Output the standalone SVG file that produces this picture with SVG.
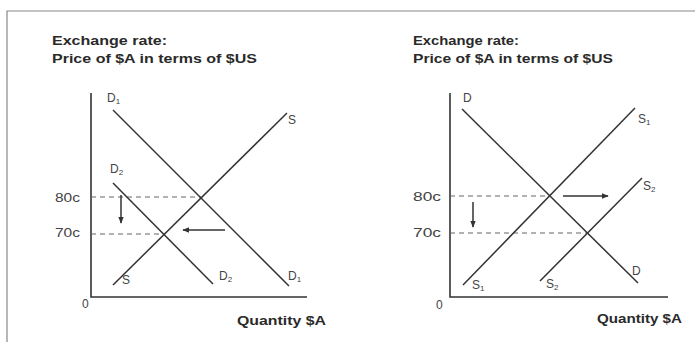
<svg xmlns="http://www.w3.org/2000/svg" width="695" height="342" viewBox="0 0 695 342">
<style>
.title{font-family:"Liberation Sans",Arial,sans-serif;font-weight:bold;font-size:13px;fill:#2a2a2a}
.lbl{font-family:"Liberation Sans",Arial,sans-serif;font-size:12px;fill:#444}
.sub{font-size:8px}
.curve{stroke:#333;stroke-width:1.5;fill:none}
.axis{stroke:#333;stroke-width:1.6;fill:none}
.dash{stroke:#666;stroke-width:1.2;stroke-dasharray:5 4;fill:none}
.arr{stroke:#333;stroke-width:1.5;fill:none;marker-end:url(#ah)}
.frame{stroke:#888;stroke-width:1.2;fill:none}
</style>
<defs>
<marker id="ah" viewBox="0 0 10 10" refX="9" refY="5" markerWidth="4.5" markerHeight="4.5" orient="auto" markerUnits="strokeWidth">
<path d="M0,1 L10,5 L0,9 z" fill="#333"/>
</marker>
</defs>
<rect width="695" height="342" fill="#fff"/>
<g id="frame">
<path class="frame" d="M7,342 V11 H695"/>
</g>

<g id="left-chart">
<g id="left-title">
<text class="title" x="52" y="45" textLength="115" lengthAdjust="spacingAndGlyphs">Exchange rate:</text>
<text class="title" x="52" y="63" textLength="205" lengthAdjust="spacingAndGlyphs">Price of $A in terms of $US</text>
</g>
<g id="left-axes">
<path class="axis" d="M91,93 V297 H307"/>
<text class="lbl" x="82" y="308">0</text>
<text class="title" x="237" y="325" textLength="89" lengthAdjust="spacingAndGlyphs">Quantity $A</text>
<text class="lbl" x="55" y="202" textLength="25" lengthAdjust="spacingAndGlyphs">80c</text>
<text class="lbl" x="55" y="237" textLength="25" lengthAdjust="spacingAndGlyphs">70c</text>
</g>
<g id="left-D1">
<text class="lbl" x="107" y="102">D<tspan class="sub" dy="2">1</tspan></text>
<text class="lbl" x="288" y="280">D<tspan class="sub" dy="2">1</tspan></text>
</g>
<g id="left-D2">
<text class="lbl" x="110" y="173">D<tspan class="sub" dy="2">2</tspan></text>
<text class="lbl" x="219" y="280">D<tspan class="sub" dy="2">2</tspan></text>
</g>
<g id="left-S">
<text class="lbl" x="288" y="124">S</text>
<text class="lbl" x="122" y="284">S</text>
</g>
</g>

<g id="right-chart">
<g id="right-title">
<text class="title" x="413" y="45" textLength="106" lengthAdjust="spacingAndGlyphs">Exchange rate:</text>
<text class="title" x="413" y="63" textLength="200" lengthAdjust="spacingAndGlyphs">Price of $A in terms of $US</text>
</g>
<g id="right-axes">
<path class="axis" d="M450,93 V297 H668"/>
<text class="lbl" x="436" y="309">0</text>
<text class="title" x="597" y="323" textLength="85" lengthAdjust="spacingAndGlyphs">Quantity $A</text>
<text class="lbl" x="413" y="201" textLength="28" lengthAdjust="spacingAndGlyphs">80c</text>
<text class="lbl" x="413" y="237" textLength="28" lengthAdjust="spacingAndGlyphs">70c</text>
</g>
<g id="right-D">
<text class="lbl" x="463" y="102">D</text>
<text class="lbl" x="632" y="275">D</text>
</g>
<g id="right-S1">
<text class="lbl" x="638" y="123">S<tspan class="sub" dy="2">1</tspan></text>
<text class="lbl" x="472" y="289">S<tspan class="sub" dy="2">1</tspan></text>
</g>
<g id="right-S2">
<text class="lbl" x="643" y="190">S<tspan class="sub" dy="2">2</tspan></text>
<text class="lbl" x="546" y="288">S<tspan class="sub" dy="2">2</tspan></text>
</g>
</g>

<g id="connectors">
<path class="dash" d="M91,197 H201"/>
<path class="dash" d="M91,234 H164"/>
<path class="curve" d="M113,110 L289,286"/>
<path class="curve" d="M113,183 L213,284"/>
<path class="curve" d="M113,285 L287,113"/>
<path class="arr" d="M121,195 V223"/>
<path class="arr" d="M225,230 H183"/>

<path class="dash" d="M450,196 H550"/>
<path class="dash" d="M450,233 H587"/>
<path class="curve" d="M462,109 L638,283"/>
<path class="curve" d="M463,285 L635,108"/>
<path class="curve" d="M540,281 L642,178"/>
<path class="arr" d="M473,202 V227"/>
<path class="arr" d="M563,196 H608"/>
</g>
</svg>
